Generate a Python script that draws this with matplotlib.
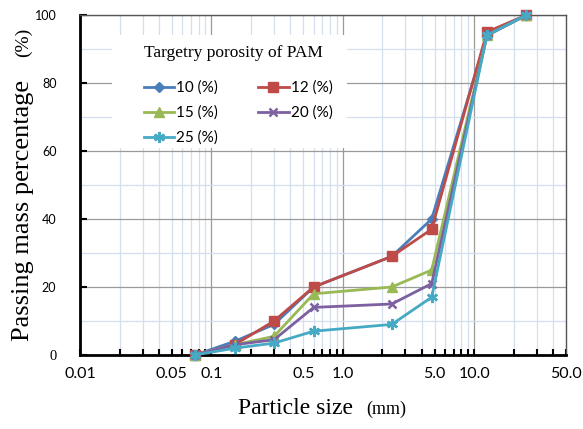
import matplotlib
matplotlib.use('Agg')
import matplotlib.pyplot as plt
from matplotlib.ticker import FixedLocator, FuncFormatter, NullFormatter
from matplotlib.patches import Rectangle

# sieve sizes (mm) and passing mass percentage per target porosity
sizes = [0.075, 0.15, 0.3, 0.6, 2.36, 4.75, 12.5, 25]
p10 = [0, 4, 9, 20, 29, 40, 94, 100]
p12 = [0, 3, 10, 20, 29, 37, 95, 100]
p15 = [0, 3, 5.5, 18, 20, 25, 94, 100]
p20 = [0, 3, 4.5, 14, 15, 21, 94, 100]
p25 = [0, 2, 3.5, 7, 9, 17, 94, 100]

labels = ['10 (%)', '12 (%)', '15 (%)', '20 (%)', '25 (%)']
colors = ['#4A7EBB', '#BE4B48', '#98B954', '#7D60A0', '#46AAC5']
markers = ['D', 's', '^', 'x', (6, 2, 0)]
msizes = [5, 7, 7, 6, 8]

major_x = [0.01, 0.1, 1, 10]
major_x_labels = ['0.01', '0.1', '1.0', '10.0']
minor_x = [m * 10.0 ** e for e in range(-2, 2) for m in range(2, 10) if m * 10.0 ** e <= 50]
minor_x_labels = {0.05: '0.05', 0.5: '0.5', 5: '5.0', 50: '50.0'}

SANS = 'Lato'
SERIF = 'Liberation Serif'


def minor_fmt(v, pos):
    for k, s in minor_x_labels.items():
        if abs(v - k) / k < 1e-6:
            return s
    return ''


def major_fmt(v, pos):
    i = min(range(len(major_x)), key=lambda j: abs(major_x[j] - v))
    return major_x_labels[i]


def main():
    fig = plt.figure(figsize=(5.83, 4.29), dpi=100)
    ax = fig.add_axes([80 / 583, 1 - 355 / 429, 486 / 583, 340 / 429])

    series = [p10, p12, p15, p20, p25]
    lines = []
    for vals, lab, c, m, ms in zip(series, labels, colors, markers, msizes):
        ln, = ax.plot(sizes, vals, color=c, lw=2, marker=m, ms=ms,
                      mew=1.8 if m in ('x', (6, 2, 0)) else 1,
                      mfc=c, mec=c, label=lab, zorder=3, clip_on=False)
        lines.append(ln)

    ax.set_xscale('log')
    ax.set_xlim(0.01, 50)
    ax.set_ylim(0, 100)

    ax.xaxis.set_major_locator(FixedLocator(major_x))
    ax.xaxis.set_major_formatter(FuncFormatter(major_fmt))
    ax.xaxis.set_minor_locator(FixedLocator(minor_x))
    ax.xaxis.set_minor_formatter(FuncFormatter(minor_fmt))
    ax.set_yticks([0, 20, 40, 60, 80, 100])
    ax.set_yticks([10, 30, 50, 70, 90], minor=True)
    ax.yaxis.set_minor_formatter(NullFormatter())

    ax.tick_params(axis='x', which='both', direction='in', length=4, width=1.5, pad=9,
                   labelsize=11.5, labelfontfamily=SANS, color='black')
    ax.tick_params(axis='y', which='major', direction='in', length=5, width=1.5, pad=17,
                   labelsize=9, labelfontfamily=SANS, color='black')
    ax.tick_params(axis='y', which='minor', length=0)
    # the zero label is set in a serif face in the original
    fig.canvas.draw()
    zero = ax.get_yticklabels()[0]
    zero.set_fontfamily(SERIF)
    zero.set_fontsize(10.5)

    ax.grid(True, which='major', color='#9a9a9a', lw=0.9, zorder=0)
    ax.grid(True, which='minor', color='#d3dfee', lw=0.9, zorder=0)
    ax.set_axisbelow(True)

    for side in ['left', 'bottom']:
        ax.spines[side].set_color('black')
        ax.spines[side].set_linewidth(2)
    for side in ['top', 'right']:
        ax.spines[side].set_color('#555555')
        ax.spines[side].set_linewidth(1)

    # white panel behind the legend
    ax.add_patch(Rectangle((112 / 583, 1 - 148 / 429), 235 / 583, 113 / 429, transform=fig.transFigure,
                           facecolor='white', edgecolor='none', zorder=1))

    # legend filled row by row: 10 12 / 15 20 / 25
    order = [0, 2, 4, 1, 3]
    leg = ax.legend([lines[i] for i in order], [labels[i] for i in order],
                    loc='upper left', bbox_to_anchor=(136 / 583, 1 - 73 / 429),
                    bbox_transform=fig.transFigure, ncol=2, frameon=False,
                    prop={'family': SANS, 'size': 11}, borderpad=0,
                    handlelength=2.0, handletextpad=0.15, columnspacing=2.6,
                    labelspacing=0.7)
    leg.set_zorder(5)
    fig.text(233 / 583, 1 - 53 / 429, 'Targetry porosity of PAM', ha='center', va='center',
             family=SERIF, size=12.5)

    # axis titles
    fig.text(23 / 583, 1 - 210 / 429, 'Passing mass percentage', rotation=90, ha='center', va='center',
             family=SERIF, size=19)
    fig.text(23 / 583, 1 - 42 / 429, '(%)', rotation=90, ha='center', va='center',
             family=SERIF, size=14)
    fig.text(296 / 583, 1 - 408 / 429, 'Particle size', ha='center', va='center',
             family=SERIF, size=17)
    fig.text(386 / 583, 1 - 409 / 429, '(mm)', ha='center', va='center',
             family=SERIF, size=13)

    fig.savefig('out.png', dpi=100)
    plt.close(fig)


if __name__ == '__main__':
    main()
